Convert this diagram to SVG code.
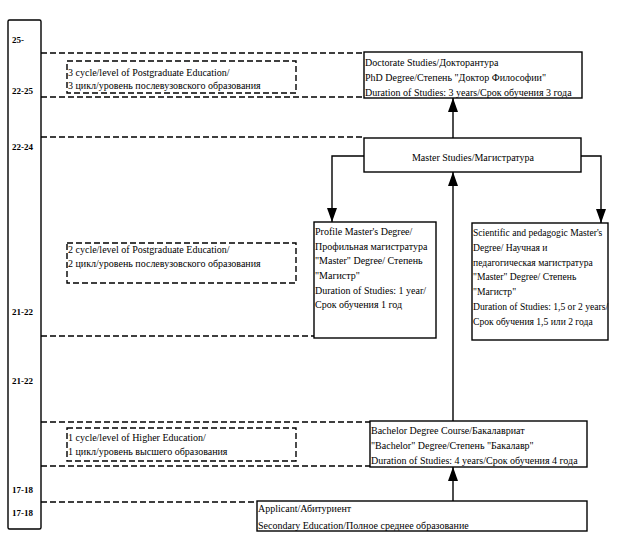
<svg xmlns="http://www.w3.org/2000/svg" width="626" height="547" viewBox="0 0 626 547">
<defs>
<style>
text{font-family:"Liberation Serif","Times New Roman",serif;font-size:10px;fill:#000}
.age{font-size:9px;font-weight:bold}
.sm{font-size:9.6px}
.box{fill:#fff;stroke:#000;stroke-width:1.4}
.dash{fill:none;stroke:#000;stroke-width:1.4;stroke-dasharray:6 3}
.conn{fill:none;stroke:#000;stroke-width:1.4}
</style>
<marker id="ah" viewBox="0 0 14 10" refX="14" refY="5" markerWidth="14" markerHeight="10" markerUnits="userSpaceOnUse" orient="auto">
<path d="M0,0 L14,5 L0,10 Z" fill="#000"/>
</marker>
</defs>
<rect width="626" height="547" fill="#fff"/>
<g id="age-column">
<rect x="8" y="20" width="33" height="509" rx="1.5" class="box" stroke-width="1.8"/>
<text class="age" x="12" y="43">25-</text>
<text class="age" x="12" y="94">22-25</text>
<text class="age" x="12" y="150">22-24</text>
<text class="age" x="12" y="315">21-22</text>
<text class="age" x="12" y="384">21-22</text>
<text class="age" x="12" y="493">17-18</text>
<text class="age" x="12" y="516">17-18</text>
</g>
<g id="level-lines">
<line x1="41" y1="53" x2="364" y2="53" class="dash"/>
<line x1="41" y1="97" x2="364" y2="97" class="dash"/>
<line x1="41" y1="137" x2="364" y2="137" class="dash"/>
<line x1="41" y1="336" x2="314" y2="336" class="dash"/>
<line x1="41" y1="422" x2="370" y2="422" class="dash"/>
<line x1="41" y1="466" x2="370" y2="466" class="dash"/>
<line x1="41" y1="502" x2="257" y2="502" class="dash"/>
</g>
<g id="cycle3">
<rect x="67" y="61" width="229" height="32" class="dash"/>
<text x="68" y="76">3 cycle/level of Postgraduate Education/</text>
<text x="68" y="89">3 цикл/уровень послевузовского образования</text>
</g>
<g id="cycle2">
<rect x="67" y="243" width="229" height="40" class="dash"/>
<text x="68" y="253">2 cycle/level of Postgraduate Education/</text>
<text x="68" y="267">2 цикл/уровень послевузовского образования</text>
</g>
<g id="cycle1">
<rect x="67" y="428" width="229" height="33" class="dash"/>
<text x="68" y="441">1 cycle/level of Higher Education/</text>
<text x="68" y="455">1 цикл/уровень высшего образования</text>
</g>
<g id="connectors">
<line x1="453" y1="138" x2="453" y2="98" class="conn" marker-end="url(#ah)"/>
<line x1="453" y1="421" x2="453" y2="172" class="conn" marker-end="url(#ah)"/>
<line x1="453" y1="501" x2="453" y2="467" class="conn" marker-end="url(#ah)"/>
<polyline points="364,156 332,156 332,222" class="conn" marker-end="url(#ah)"/>
<polyline points="581,156 601,156 601,223" class="conn" marker-end="url(#ah)"/>
</g>
<g id="doctorate">
<rect x="364" y="52" width="218" height="46" class="box"/>
<text x="365" y="66">Doctorate Studies/Докторантура</text>
<text x="365" y="81">PhD Degree/Степень "Доктор Философии"</text>
<text x="365" y="96">Duration of Studies: 3 years/Срок обучения 3 года</text>
</g>
<g id="master">
<rect x="364" y="138" width="217" height="34" class="box"/>
<text x="473" y="161" text-anchor="middle">Master Studies/Магистратура</text>
</g>
<g id="profile-master">
<rect x="314" y="222" width="122" height="116" class="box"/>
<text x="315" y="235">Profile Master's Degree/</text>
<text x="315" y="250">Профильная магистратура</text>
<text x="315" y="264">"Master" Degree/ Степень</text>
<text x="315" y="279">"Магистр"</text>
<text x="315" y="294">Duration of Studies: 1 year/</text>
<text x="315" y="308">Срок обучения 1 год</text>
</g>
<g id="scientific-master">
<rect x="472" y="223" width="136" height="117" class="box"/>
<text class="sm" x="473" y="236">Scientific and pedagogic Master's</text>
<text class="sm" x="473" y="251">Degree/ Научная и</text>
<text class="sm" x="473" y="266">педагогическая магистратура</text>
<text class="sm" x="473" y="280">"Master" Degree/ Степень</text>
<text class="sm" x="473" y="295">"Магистр"</text>
<text class="sm" x="473" y="310">Duration of Studies: 1,5 or 2 years/</text>
<text class="sm" x="473" y="325">Срок обучения 1,5 или 2 года</text>
</g>
<g id="bachelor">
<rect x="370" y="421" width="217" height="46" class="box"/>
<text x="371" y="434">Bachelor Degree Course/Бакалавриат</text>
<text x="371" y="449">"Bachelor" Degree/Степень "Бакалавр"</text>
<text x="371" y="464">Duration of Studies: 4 years/Срок обучения 4 года</text>
</g>
<g id="applicant">
<rect x="257" y="501" width="330" height="30" class="box"/>
<text x="258" y="512">Applicant/Абитуриент</text>
<text x="258" y="529">Secondary Education/Полное среднее образование</text>
</g>
</svg>
